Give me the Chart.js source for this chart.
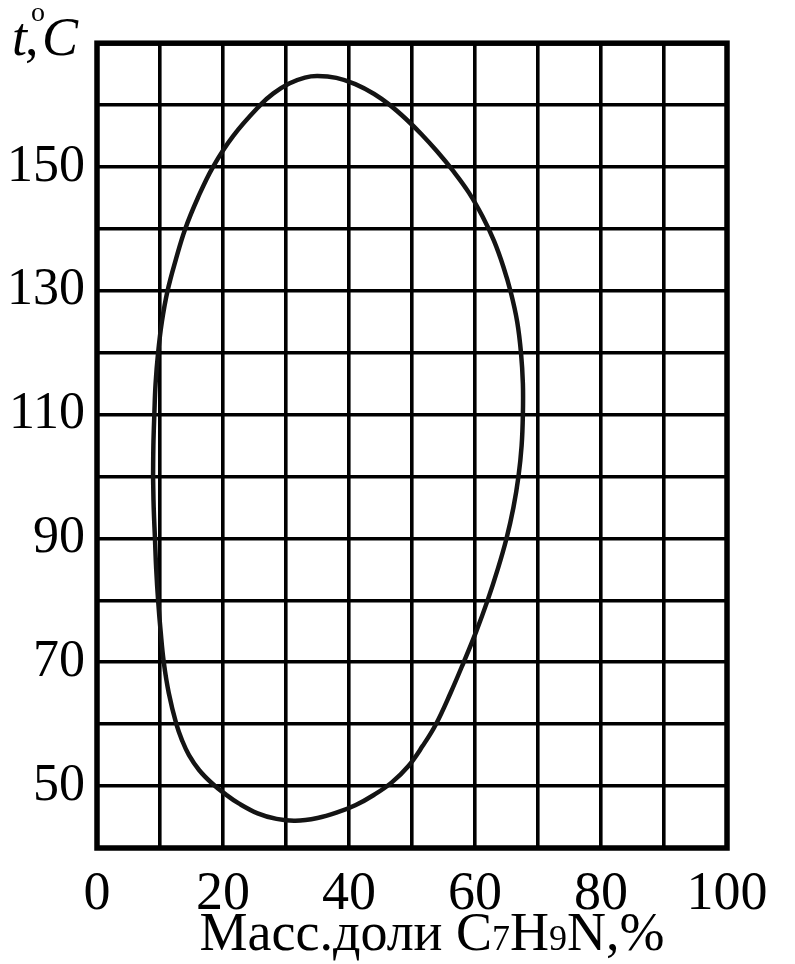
<!DOCTYPE html>
<html>
<head>
<meta charset="utf-8">
<script src="https://cdn.jsdelivr.net/npm/chart.js@4.4.1/dist/chart.umd.min.js"></script>
<style>
  html, body { margin: 0; padding: 0; background: #fff; }
  #wrap { width: 795px; height: 964px; }
</style>
</head>
<body>
<div id="wrap"><canvas id="chart" width="795" height="964"></canvas></div>
<script>
// Loop of the curve, going round from the left edge
const massFraction = [8.9, 8.95, 9.1, 9.3, 9.7, 10.3, 11.2, 12.5, 14.0, 16.0, 18.4, 21.6, 25.9,
  28, 30.5, 33, 35, 38, 41, 44, 46.5, 49, 51.5, 54, 56.5, 59, 61.2, 63, 64.5, 65.7,
  66.7, 67.3, 67.6, 67.6, 67.4, 66.9, 66.1, 65.0, 63.6, 62.0, 60.2, 58.2, 56.1, 53.8,
  51.7, 49.4, 46.8, 44, 41, 38, 35, 31.5, 28.5, 25.5, 22.5, 20.5, 18.2, 16.2,
  14.6, 13.5, 12.6, 11.4, 10.6, 10.1, 9.7, 9.4, 9.2, 9.0, 8.9];
const temperature = [100, 105, 110, 115, 120, 125, 130, 135, 140, 145, 150, 155, 160,
  161.9, 163.5, 164.45, 164.7, 164.4, 163.4, 161.8, 160, 157.8, 155.3, 152.5, 149.4, 145.9, 142, 138.1, 133.9, 129.7,
  125, 120, 115, 110, 105, 100, 95, 90, 85, 80, 75, 70, 65, 60,
  56.5, 53.2, 50.6, 48.6, 46.9, 45.7, 44.85, 44.4, 44.7, 45.6, 47.2, 48.6, 50.5, 52.6,
  55, 57.4, 60, 65, 70, 75, 80, 85, 90, 95, 100];

const xTickLabels = [0, 20, 40, 60, 80, 100];
const yTickLabels = [50, 70, 90, 110, 130, 150];

const serif = '"Liberation Serif", "DejaVu Serif", serif';

const points = massFraction.map((x, i) => ({ x: x, y: temperature[i] }));

// frame round the plot + the axis titles with their small indices
const framePlugin = {
  id: 'frame',
  afterDraw(chart) {
    const ctx = chart.ctx;
    const a = chart.chartArea;
    ctx.save();
    ctx.strokeStyle = '#000';
    ctx.lineWidth = 5.5;
    ctx.strokeRect(a.left, a.top, a.right - a.left, a.bottom - a.top);

    ctx.fillStyle = '#000';
    ctx.textBaseline = 'alphabetic';

    // y title: t,°C
    ctx.font = 'italic 54px ' + serif;
    ctx.fillText('t', 12, 55);
    ctx.font = '54px ' + serif;
    ctx.fillText(',', 25, 55);
    ctx.font = '28px ' + serif;
    ctx.fillText('o', 31, 21);
    ctx.font = 'italic 54px ' + serif;
    ctx.fillText('C', 42, 55);

    // x title: Масс.доли C7H9N,%
    const parts = [
      ['Масс.доли C', 54], ['7', 36], ['H', 54], ['9', 36], ['N,%', 54]
    ];
    let total = 0;
    parts.forEach(p => {
      ctx.font = p[1] + 'px ' + serif;
      total += ctx.measureText(p[0]).width;
    });
    let x = 432 - total / 2;
    parts.forEach(p => {
      ctx.font = p[1] + 'px ' + serif;
      ctx.fillText(p[0], x, 950);
      x += ctx.measureText(p[0]).width;
    });
    ctx.restore();
  }
};

new Chart(document.getElementById('chart'), {
  type: 'scatter',
  data: {
    datasets: [{
      data: points,
      showLine: true,
      fill: false,
      borderColor: '#141414',
      borderWidth: 4.5,
      pointRadius: 0,
      tension: 0.4
    }]
  },
  options: {
    responsive: false,
    animation: false,
    devicePixelRatio: 1,
    layout: { padding: { top: 37, right: 68, left: 0, bottom: 0 } },
    plugins: {
      legend: { display: false },
      tooltip: { enabled: false }
    },
    scales: {
      x: {
        type: 'linear',
        min: 0,
        max: 100,
        afterFit: s => { s.height = 116; },
        border: { display: false },
        grid: { color: '#000', lineWidth: 3.6, drawTicks: false },
        ticks: {
          stepSize: 10,
          autoSkip: false,
          maxRotation: 0,
          padding: 14,
          color: '#000',
          font: { family: serif, size: 54 },
          callback: v => xTickLabels.includes(v) ? String(v) : ''
        }
      },
      y: {
        type: 'linear',
        min: 40,
        max: 170,
        afterFit: s => { s.width = 97; },
        border: { display: false },
        grid: { color: '#000', lineWidth: 3.6, drawTicks: false },
        ticks: {
          stepSize: 10,
          autoSkip: false,
          padding: 12,
          color: '#000',
          font: { family: serif, size: 52 },
          callback: v => yTickLabels.includes(v) ? String(v) : ''
        }
      }
    }
  },
  plugins: [framePlugin]
});
</script>
</body>
</html>
